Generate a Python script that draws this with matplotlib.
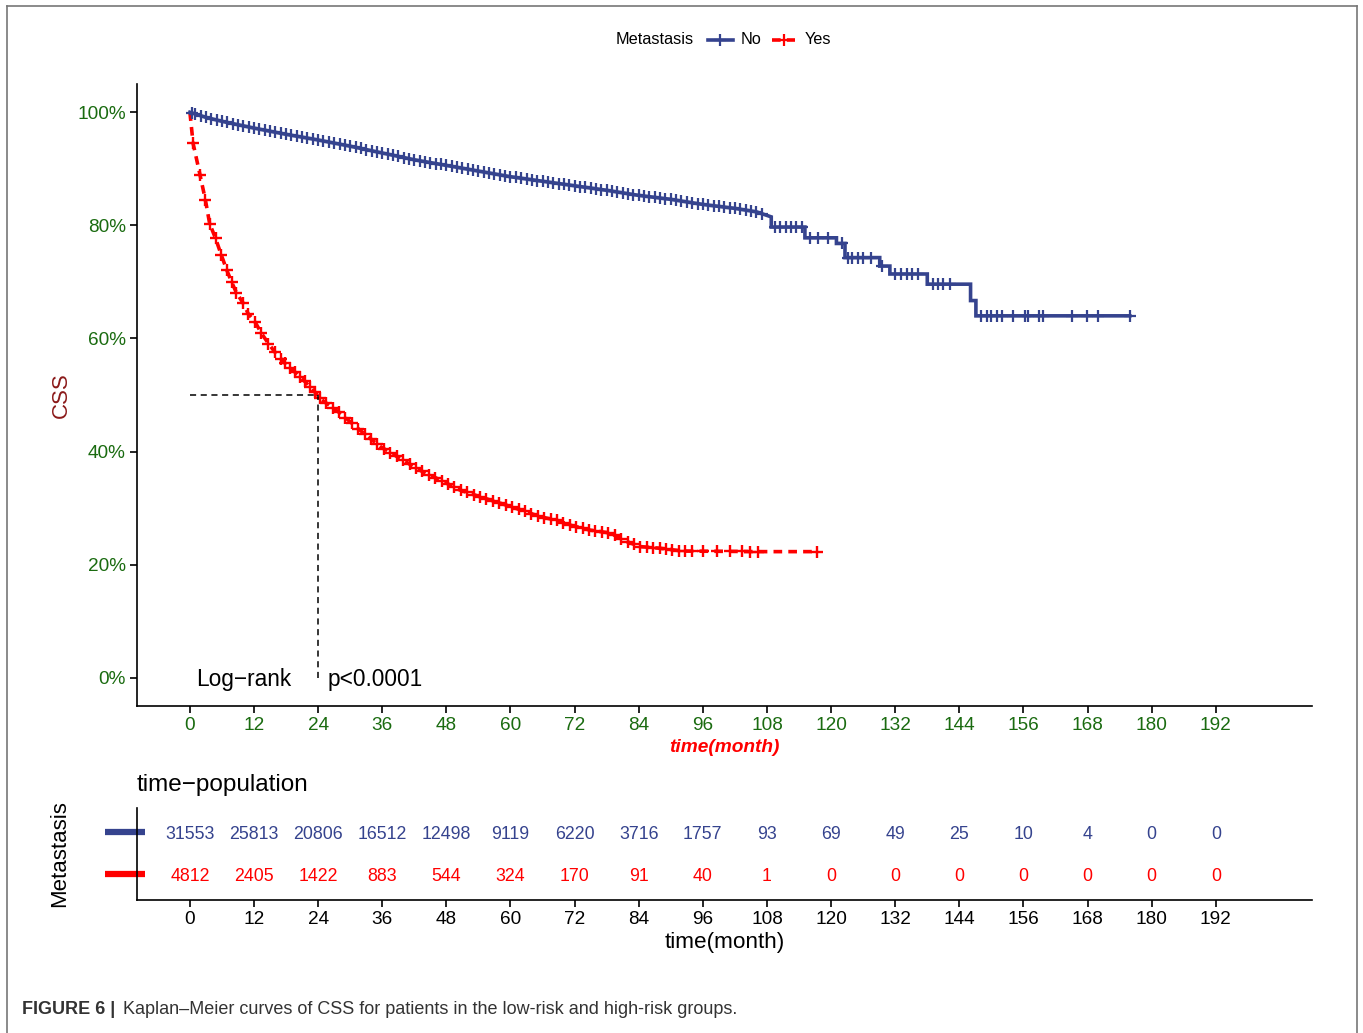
import matplotlib
matplotlib.use("Agg")
import matplotlib.pyplot as plt
import numpy as np
from matplotlib.lines import Line2D
from matplotlib.transforms import blended_transform_factory

plt.rcParams['font.family'] = ['Liberation Sans', 'DejaVu Sans']

# ---- data ----
# Kaplan-Meier curve vertices (months, survival %)
no_t = [0, 3, 6, 9, 12, 18, 24, 30, 36, 42, 48, 54, 60, 66, 72, 78, 84, 90, 96, 102, 106,
        108.8, 108.8, 115.1, 115.1, 121.0, 121.0, 122.6, 122.6, 129.1, 129.1, 131, 131,
        138, 138, 146.1, 146.1, 147.1, 147.1, 175.9]
no_s = [100, 99.1, 98.4, 97.8, 97.2, 96.1, 95.1, 94.0, 92.8, 91.6, 90.6, 89.6, 88.6, 87.8,
        87.0, 86.2, 85.3, 84.6, 83.7, 83.0, 82.4,
        81.5, 79.7, 79.7, 77.8, 77.8, 76.8, 76.8, 74.3, 74.3, 72.8, 72.8, 71.4,
        71.4, 69.6, 69.6, 66.7, 66.7, 64.0, 64.0]

yes_t = [0, 0.6, 1.9, 2.9, 3.7, 4.8, 5.9, 6.9, 7.8, 8.7, 10, 10.9, 12.2, 13.4, 14.7, 15.9,
         17.8, 19.6, 21.5, 23.4, 24.3, 28.1, 31.8, 35.6, 39.3, 43.0, 46.8, 50.5, 54.3, 58.0,
         61.8, 65.5, 69.2, 71.1, 74.9, 78.6, 81.7, 84.2, 87.9, 92.3, 107.3, 117.3]
yes_s = [100, 94.5, 88.9, 84.5, 80.3, 77.7, 74.7, 72.1, 70.0, 68.1, 66.2, 64.4, 62.9, 60.9,
         59.1, 57.6, 55.6, 54.1, 52.4, 50.5, 49.4, 46.8, 43.8, 40.9, 38.8, 36.7, 35.0, 33.2,
         32.0, 30.9, 29.7, 28.5, 27.7, 27.0, 26.1, 25.6, 24.1, 23.2, 22.9, 22.4, 22.3, 22.3]

# censoring marks (months)
no_censor = [0.3, 1, 2, 3, 4, 5, 6, 7, 8, 9, 10, 11, 12, 13, 14, 15, 16, 17, 18, 19, 20,
             21, 22, 23, 24, 25, 26, 27, 28, 29, 30, 31, 32, 33, 34, 35, 36, 37, 38, 39, 40,
             41, 42, 43, 44, 45, 46, 47, 48, 49, 50, 51, 52, 53, 54, 55, 56, 57, 58, 59, 60,
             61, 62, 63, 64, 65, 66, 67, 68, 69, 70, 71, 72, 73, 74, 75, 76, 77, 78, 79, 80,
             81, 82, 83, 84, 85, 86, 87, 88, 89, 90, 91, 92, 93, 94, 95, 96, 97, 98, 99, 100,
             101, 102, 103, 104, 105, 106, 107,
             109.5, 110.5, 111.5, 112.5, 113.5, 114.5, 116, 117.5, 119.5, 122, 123.2, 124,
             125, 126, 127.4, 129.6, 132, 133, 134.2, 135.2, 136.2, 139, 140, 141, 142.3,
             148.1, 149.1, 150, 151, 151.9, 154.1, 156.2, 156.8, 159, 159.7, 165, 167.8, 170,
             175.9]
yes_censor = [0.6, 1.9, 2.9, 3.7, 4.8, 5.9, 6.9, 7.8, 8.7, 10, 10.9, 12.2, 13.4, 14.7, 15.9,
              17.0, 17.8, 18.8, 19.6, 20.6, 21.5, 22.5, 23.4, 24.3, 25.5, 26.7, 27.9, 29.1,
              30.3, 31.5, 32.7, 33.9, 35.1, 36.3, 37.5, 38.7, 39.9, 41.1, 42.3, 43.5, 44.7,
              45.9, 47.1, 48.3, 49.5, 50.7, 51.9, 53.1, 54.3, 55.5, 56.7, 57.9, 59.1, 60.3,
              61.5, 62.7, 63.9, 65.1, 66.3, 67.5, 68.7, 69.9, 71.1, 72.3, 73.5, 74.7, 75.9,
              77.1, 78.3, 79.5, 80.7, 81.9, 83.1, 84.3, 85.5, 86.7, 87.9, 89.1, 90.3, 91.5,
              92.7, 94, 96, 98.6, 101, 103.3, 104.8, 106.3, 117.3]

median_yes = 24

# numbers at risk
risk_times = [0, 12, 24, 36, 48, 60, 72, 84, 96, 108, 120, 132, 144, 156, 168, 180, 192]
risk_no = [31553, 25813, 20806, 16512, 12498, 9119, 6220, 3716, 1757, 93, 69, 49, 25, 10, 4, 0, 0]
risk_yes = [4812, 2405, 1422, 883, 544, 324, 170, 91, 40, 1, 0, 0, 0, 0, 0, 0, 0]

y_ticks = [0, 20, 40, 60, 80, 100]

BLUE = '#35438E'
RED = '#FF0000'
GREEN = '#1A6B10'

W, H = 1363, 1033
fig = plt.figure(figsize=(W / 100, H / 100), dpi=100)

# outer frame
for xs, ys in [([7, 7], [H, 6]), ([7, 1357], [6, 6]), ([1357, 1357], [6, H])]:
    fig.add_artist(Line2D([x / W for x in xs], [1 - y / H for y in ys], transform=fig.transFigure,
                          color='#777777', lw=1.2))

# ---- main KM axes ----
ax = fig.add_axes([137 / W, 1 - 706 / H, (1312 - 137) / W, (706 - 84) / H])
ax.plot(no_t, np.array(no_s) / 100, color=BLUE, lw=2.6, solid_joinstyle='miter')
ax.plot(yes_t, np.array(yes_s) / 100, color=RED, lw=2.6, linestyle=(0, (2.4, 1.7)))
ax.plot(no_censor, np.interp(no_censor, no_t, no_s) / 100, linestyle='none', marker='+',
        ms=8, mew=1.6, color=BLUE)
ax.plot(yes_censor, np.interp(yes_censor, yes_t, yes_s) / 100, linestyle='none', marker='+',
        ms=8.5, mew=1.7, color=RED)

# median survival guide
ax.plot([0, median_yes], [0.5, 0.5], color='black', lw=1.1, linestyle=(0, (4, 3)))
ax.plot([median_yes, median_yes], [0, 0.5], color='black', lw=1.1, linestyle=(0, (4, 3)))

ax.text(1.1, -0.003, 'Log\u2212rank', fontsize=16.3, va='center', ha='left')
ax.text(25.8, -0.003, 'p<0.0001', fontsize=16.3, va='center', ha='left')

ax.set_xlim(-9.9, 210)
ax.set_ylim(-0.05, 1.05)
ax.set_xticks(risk_times)
ax.set_yticks([v / 100 for v in y_ticks])
ax.set_yticklabels([f'{v}%' for v in y_ticks])
ax.tick_params(axis='both', labelsize=13.7, labelcolor=GREEN, length=5, width=1.2, pad=3)
for s in ['top', 'right']:
    ax.spines[s].set_visible(False)
for s in ['left', 'bottom']:
    ax.spines[s].set_linewidth(1.2)
ax.set_xlabel('time(month)', fontsize=13.8, fontweight='bold', fontstyle='italic',
              color=RED, labelpad=3.5)
ax.set_ylabel('CSS', fontsize=16, color='#8B1A1A', labelpad=4)

# legend drawn at top
ly = 1 - 40 / H
fig.text(616 / W, ly, 'Metastasis', fontsize=11.7, va='center', ha='left')
fig.add_artist(Line2D([708 / W, 733 / W], [ly, ly], transform=fig.transFigure, color=BLUE, lw=2.6))
fig.add_artist(Line2D([720.5 / W], [ly], transform=fig.transFigure, color=BLUE,
                      marker='+', ms=8, mew=1.6))
fig.text(741 / W, ly, 'No', fontsize=11.7, va='center', ha='left')
fig.add_artist(Line2D([772 / W, 795 / W], [ly, ly], transform=fig.transFigure, color=RED, lw=2.6,
                      linestyle=(0, (2.4, 1.7))))
fig.add_artist(Line2D([783.5 / W], [ly], transform=fig.transFigure, color=RED,
                      marker='+', ms=8, mew=1.6))
fig.text(805 / W, ly, 'Yes', fontsize=11.7, va='center', ha='left')

# ---- risk table ----
tb = fig.add_axes([137 / W, 1 - 900 / H, (1312 - 137) / W, (900 - 808) / H])
for t, n_no, n_yes in zip(risk_times, risk_no, risk_yes):
    tb.text(t, 2, str(n_no), color=BLUE, fontsize=12.8, ha='center', va='center')
    tb.text(t, 1, str(n_yes), color=RED, fontsize=12.8, ha='center', va='center')
tb.set_xlim(-9.9, 210)
tb.set_ylim(0.43, 2.63)
tb.set_xticks(risk_times)
tb.set_yticks([1, 2])
tb.set_yticklabels(['', ''])
tb.tick_params(axis='x', labelsize=13.7, length=5, width=1.2, pad=3)
tb.tick_params(axis='y', length=0)
for s in ['top', 'right']:
    tb.spines[s].set_visible(False)
for s in ['left', 'bottom']:
    tb.spines[s].set_linewidth(1.2)
trans = blended_transform_factory(tb.transAxes, tb.transData)
tb.plot([-0.027, 0.0068], [2.05, 2.05], transform=trans, color=BLUE, lw=4.5, clip_on=False,
        solid_capstyle='butt')
tb.plot([-0.027, 0.0068], [1.05, 1.05], transform=trans, color=RED, lw=4.5, clip_on=False,
        solid_capstyle='butt')
tb.set_xlabel('time(month)', fontsize=16.2, labelpad=3)
tb.set_ylabel('Metastasis', fontsize=16, labelpad=45)
tb.set_title('time\u2212population', fontsize=17.5, loc='left', pad=12)

# caption
cap_y = 1 - 1010 / H
cap_font = ['Liberation Sans Narrow', 'Liberation Sans', 'DejaVu Sans']
fig.text(22 / W, cap_y, 'FIGURE 6 |', fontsize=13, fontweight='bold', color='#333333',
         family=cap_font, va='center', ha='left')
fig.text(123 / W, cap_y, 'Kaplan\u2013Meier curves of CSS for patients in the low-risk and high-risk groups.',
         fontsize=13, color='#333333', family=cap_font, va='center', ha='left')

fig.savefig('out.png', dpi=100)
